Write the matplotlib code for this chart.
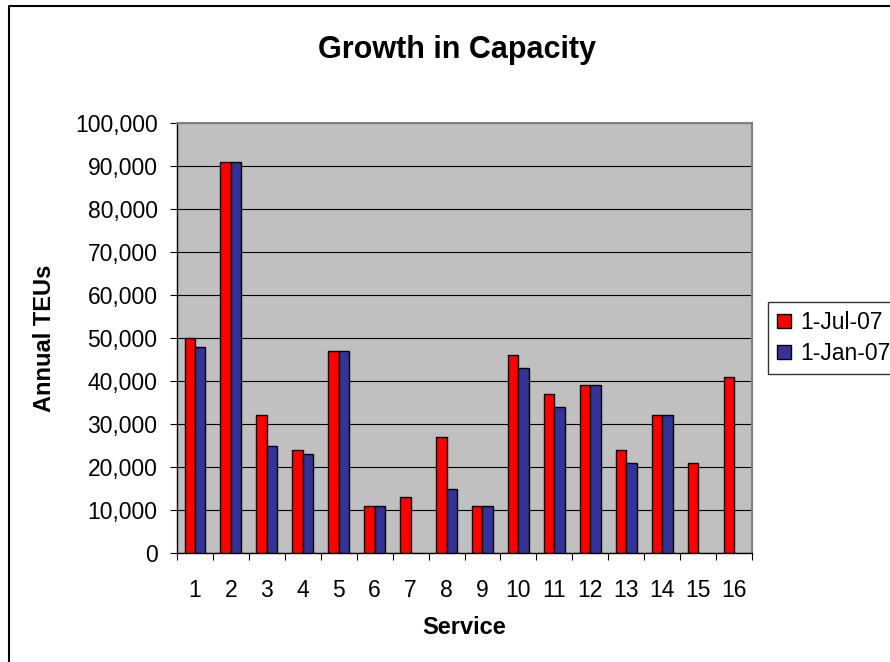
import matplotlib.pyplot as plt
from matplotlib.lines import Line2D
import numpy as np

plt.rcParams['font.family'] = ['Liberation Sans', 'DejaVu Sans']

# data
services = [str(i) for i in range(1, 17)]
jul07 = [50000, 91000, 32000, 24000, 47000, 11000, 13000, 27000,
         11000, 46000, 37000, 39000, 24000, 32000, 21000, 41000]
jan07 = [48000, 91000, 25000, 23000, 47000, 11000, 0, 15000,
         11000, 43000, 34000, 39000, 21000, 32000, 0, 0]
series_names = ['1-Jul-07', '1-Jan-07']
colors = ['#FF0000', '#333399']

W, H = 890, 662
fig = plt.figure(figsize=(W / 100, H / 100), dpi=100)
ax = fig.add_axes([177 / W, 1 - 553 / H, (752 - 177) / W, (553 - 123) / H])
ax.set_facecolor('#C0C0C0')

x = np.arange(len(services))
bw = 0.29
b1 = ax.bar(x - bw / 2, jul07, bw, color=colors[0], edgecolor='black',
            linewidth=1, label=series_names[0], zorder=3)
b2 = ax.bar(x + bw / 2, jan07, bw, color=colors[1], edgecolor='black',
            linewidth=1, label=series_names[1], zorder=3)
for r, v in zip(b2, jan07):
    if v == 0:
        r.set_visible(False)

ax.set_xlim(-0.5, len(services) - 0.5)
ax.set_ylim(0, 100000)
ax.set_yticks(np.arange(0, 100001, 10000))
ax.set_yticklabels([f'{v:,}' for v in range(0, 100001, 10000)])
ax.yaxis.grid(True, color='black', linewidth=0.8, zorder=1)
ax.set_axisbelow(True)

ax.set_xticks(x)
ax.set_xticklabels(services)
ax.set_xticks(np.arange(-0.5, len(services)), minor=True)
ax.tick_params(axis='x', which='major', length=0, pad=19, labelsize=16.5)
ax.tick_params(axis='x', which='minor', length=5, width=0.8, direction='out')
ax.tick_params(axis='y', length=5, width=0.8, pad=9, labelsize=16.5)

for s in ['top', 'right']:
    ax.spines[s].set_color('#808080')
    ax.spines[s].set_linewidth(1.5)
for s in ['left', 'bottom']:
    ax.spines[s].set_color('black')
    ax.spines[s].set_linewidth(1)

fig.text(457 / W, 1 - 50 / H, 'Growth in Capacity', fontsize=22,
         fontweight='bold', ha='center', va='center')
fig.text(45 / W, 1 - 338 / H, 'Annual TEUs', fontsize=17, fontweight='bold',
         rotation=90, ha='center', va='center')
fig.text(464.5 / W, 1 - 628 / H, 'Service', fontsize=17, fontweight='bold',
         ha='center', va='center')

leg = fig.legend(handles=[b1, b2], loc='upper left',
                 bbox_to_anchor=(768 / W, 1 - 302 / H), fontsize=16.5,
                 frameon=True, fancybox=False, edgecolor='black',
                 handlelength=0.6, handleheight=0.6, handletextpad=0.4,
                 labelspacing=0.35, borderpad=0.4, borderaxespad=0)
leg.get_frame().set_linewidth(1)

# outer chart border (only left and top are inside the crop)
fig.add_artist(Line2D([9 / W, 9 / W, 1.01], [-0.01, 1 - 6 / H, 1 - 6 / H],
                      color='black', linewidth=1.5))

fig.savefig('out.png', dpi=100)
